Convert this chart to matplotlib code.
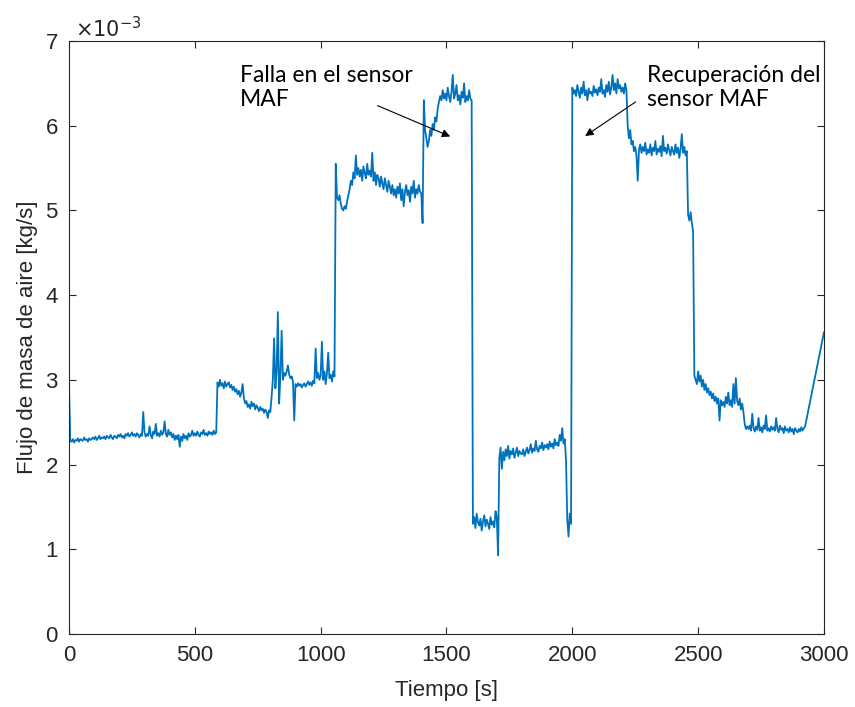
import numpy as np
import matplotlib.pyplot as plt

# tiempo de muestreo [s] (cada 5 s hasta 2925, luego el ultimo punto en 3000)
tiempo = np.append(np.arange(0, 2926, 5), 3000)

# flujo de masa de aire, en unidades de 1e-3 kg/s
flujo = [
    2.95, 2.28, 2.27, 2.30, 2.26, 2.29, 2.28, 2.31, 2.27, 2.30, 2.29, 2.28, 2.32, 2.29, 2.30, 2.27, 2.31, 2.29, 2.30, 2.32,
    2.30, 2.33, 2.29, 2.31, 2.34, 2.30, 2.32, 2.31, 2.33, 2.30, 2.34, 2.32, 2.31, 2.35, 2.32, 2.30, 2.34, 2.33, 2.31, 2.35,
    2.33, 2.36, 2.32, 2.34, 2.31, 2.36, 2.34, 2.37, 2.33, 2.35, 2.38, 2.34, 2.36, 2.33, 2.37, 2.35, 2.32, 2.36, 2.34, 2.62,
    2.38, 2.33, 2.36, 2.34, 2.45, 2.35, 2.31, 2.39, 2.36, 2.48, 2.34, 2.37, 2.33, 2.40, 2.35, 2.38, 2.51, 2.36, 2.33, 2.41,
    2.35, 2.38, 2.32, 2.36, 2.29, 2.34, 2.30, 2.35, 2.21, 2.33, 2.28, 2.36, 2.31, 2.34, 2.29, 2.37, 2.33, 2.35, 2.40, 2.34,
    2.37, 2.34, 2.39, 2.35, 2.33, 2.38, 2.36, 2.41, 2.35, 2.37, 2.34, 2.39, 2.36, 2.38, 2.35, 2.40, 2.36, 2.38, 2.97, 2.92,
    3.00, 2.93, 2.96, 2.90, 2.98, 2.92, 2.95, 2.97, 2.91, 2.94, 2.88, 2.92, 2.86, 2.89, 2.83, 2.87, 2.80, 2.85, 2.95, 2.78,
    2.72, 2.75, 2.68, 2.71, 2.66, 2.74, 2.69, 2.72, 2.65, 2.70, 2.67, 2.63, 2.68, 2.64, 2.66, 2.61, 2.65, 2.62, 2.55, 2.64,
    2.62, 2.80, 3.00, 3.49, 2.90, 3.10, 3.80, 2.72, 3.05, 3.58, 3.00, 3.08, 3.05, 3.10, 3.17, 3.06, 3.02, 3.04, 2.98, 2.52,
    2.95, 2.92, 2.96, 2.93, 2.95, 2.91, 2.94, 2.96, 2.92, 2.95, 2.98, 2.94, 2.97, 2.93, 2.99, 2.96, 3.37, 3.02, 3.08, 3.00,
    3.05, 3.45, 3.00, 3.10, 2.95, 3.08, 3.32, 3.02, 3.06, 2.98, 3.10, 3.04, 5.55, 5.15, 5.12, 5.18, 5.08, 5.02, 5.00, 5.05,
    5.02, 5.10, 5.18, 5.25, 5.35, 5.30, 5.45, 5.38, 5.65, 5.42, 5.50, 5.40, 5.48, 5.35, 5.52, 5.44, 5.38, 5.55, 5.42, 5.47,
    5.40, 5.68, 5.35, 5.45, 5.30, 5.42, 5.38, 5.28, 5.40, 5.32, 5.25, 5.38, 5.30, 5.22, 5.35, 5.28, 5.20, 5.30, 5.18, 5.25,
    5.15, 5.28, 5.20, 5.32, 5.12, 5.25, 5.05, 5.22, 5.30, 5.18, 5.24, 5.10, 5.28, 5.20, 5.35, 5.15, 5.25, 5.20, 5.30, 5.22,
    5.20, 4.85, 6.30, 5.95, 5.85, 5.75, 5.82, 5.95, 5.88, 6.02, 5.95, 6.10, 6.05, 6.20, 6.28, 6.35, 6.30, 6.42, 6.32, 6.38,
    6.30, 6.45, 6.35, 6.28, 6.40, 6.60, 6.32, 6.38, 6.48, 6.30, 6.36, 6.25, 6.40, 6.33, 6.50, 6.28, 6.35, 6.30, 6.42, 6.32,
    6.30, 1.30, 1.38, 1.25, 1.42, 1.32, 1.28, 1.36, 1.22, 1.33, 1.40, 1.27, 1.35, 1.30, 1.24, 1.38, 1.29, 1.33, 1.26, 1.45,
    1.38, 0.93, 2.08, 2.20, 1.95, 2.15, 2.05, 2.18, 2.10, 2.22, 2.07, 2.16, 2.12, 2.19, 2.08, 2.14, 2.20, 2.10, 2.16, 2.13,
    2.12, 2.18, 2.10, 2.15, 2.20, 2.13, 2.17, 2.24, 2.14, 2.19, 2.16, 2.28, 2.18, 2.15, 2.22, 2.19, 2.26, 2.17, 2.23, 2.20,
    2.24, 2.18, 2.27, 2.21, 2.25, 2.19, 2.30, 2.23, 2.26, 2.22, 2.35, 2.28, 2.43, 2.25, 2.30, 2.05, 1.35, 1.15, 1.42, 1.30,
    6.45, 6.38, 6.42, 6.35, 6.48, 6.40, 6.33, 6.45, 6.38, 6.52, 6.36, 6.42, 6.30, 6.44, 6.38, 6.40, 6.35, 6.47, 6.39, 6.43,
    6.36, 6.45, 6.40, 6.55, 6.38, 6.42, 6.34, 6.48, 6.40, 6.52, 6.37, 6.45, 6.60, 6.42, 6.50, 6.38, 6.55, 6.44, 6.48, 6.40,
    6.45, 6.38, 6.50, 6.42, 6.00, 5.85, 5.95, 5.78, 5.82, 5.70, 5.75, 5.65, 5.35, 5.72, 5.78, 5.68, 5.75, 5.70, 5.80, 5.66,
    5.72, 5.68, 5.78, 5.65, 5.74, 5.70, 5.82, 5.66, 5.73, 5.69, 5.76, 5.64, 5.88, 5.70, 5.74, 5.67, 5.78, 5.71, 5.65, 5.75,
    5.70, 5.66, 5.78, 5.68, 5.74, 5.62, 5.72, 5.90, 5.68, 5.75, 5.65, 5.70, 4.95, 4.88, 4.98, 4.85, 4.75, 3.05, 3.00, 2.95,
    3.10, 2.98, 3.05, 2.92, 3.00, 2.88, 2.95, 2.85, 2.90, 2.82, 2.86, 2.78, 2.84, 2.75, 2.80, 2.72, 2.78, 2.52, 2.76, 2.70,
    2.74, 2.68, 2.80, 2.72, 2.85, 2.70, 2.76, 2.68, 2.95, 2.72, 3.02, 2.75, 2.70, 2.78, 2.65, 2.72, 2.62, 2.48, 2.42, 2.45,
    2.42, 2.46, 2.40, 2.60, 2.43, 2.39, 2.45, 2.41, 2.55, 2.40, 2.44, 2.38, 2.46, 2.42, 2.58, 2.40, 2.43, 2.39, 2.45, 2.41,
    2.44, 2.40, 2.55, 2.42, 2.38, 2.46, 2.41, 2.43, 2.37, 2.45, 2.40, 2.42, 2.38, 2.44, 2.39, 2.42, 2.36, 2.43, 2.40, 2.38,
    2.42, 2.39, 2.44, 2.40, 2.43, 2.45,
    3.56,
]

xticks = [0, 500, 1000, 1500, 2000, 2500, 3000]
yticks = [0, 1, 2, 3, 4, 5, 6, 7]

gris = "#262626"
plt.rcParams["font.family"] = ["Liberation Sans", "DejaVu Sans"]

fig = plt.figure(figsize=(8.55, 7.07), dpi=100)
ax = fig.add_axes([0.0807, 0.1033, 0.8830, 0.8387])
ax.plot(tiempo, flujo, color="#0072BD", linewidth=1.3)

ax.set_xlim(0, 3000)
ax.set_ylim(0, 7)
ax.set_xticks(xticks)
ax.set_yticks(yticks)
ax.tick_params(direction="in", length=5, width=0.8, top=True, right=True,
               labelsize=16, colors=gris, pad=8)
for s in ax.spines.values():
    s.set_color(gris)
    s.set_linewidth(0.8)

ax.set_xlabel("Tiempo [s]", fontsize=16, color=gris, labelpad=10)
ax.set_ylabel("Flujo de masa de aire [kg/s]", fontsize=16, color=gris, labelpad=5)
ax.text(0.008, 1.0, r"$\times10^{-3}$", transform=ax.transAxes, fontsize=15,
        color=gris, ha="left", va="bottom")

anot = dict(fontsize=16.5, family=["Lato", "DejaVu Sans"], color="black",
            ha="left", va="top", linespacing=1.2)
ax.text(680, 6.72, "Falla en el sensor\nMAF", **anot)
ax.text(2296, 6.72, "Recuperación del\nsensor MAF", **anot)

flecha = dict(arrowstyle="-|>", color="black", lw=0.8, mutation_scale=12)
ax.annotate("", xy=(1525, 5.86), xytext=(1216, 6.25), arrowprops=flecha)
ax.annotate("", xy=(2042, 5.86), xytext=(2261, 6.30), arrowprops=flecha)

fig.savefig("out.png", dpi=100)
